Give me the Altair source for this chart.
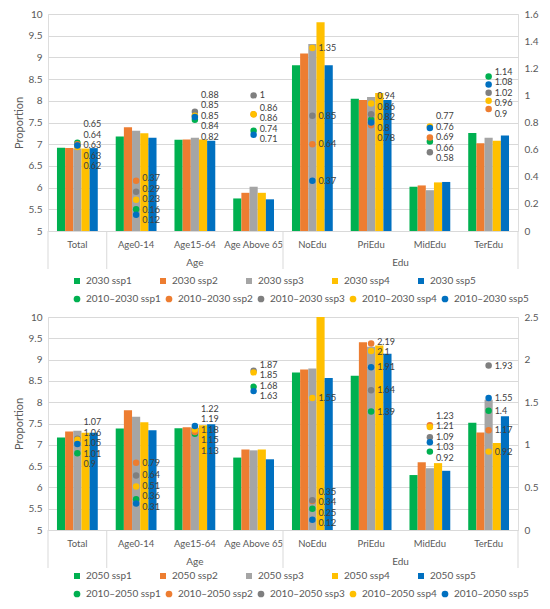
import altair as alt
import pandas as pd

FONT = "Lato"
TXT = "#595959"

categories = ["Total", "Age0-14", "Age15-64", "Age Above 65", "NoEdu", "PriEdu", "MidEdu", "TerEdu"]
ssps = ["ssp1", "ssp2", "ssp3", "ssp4", "ssp5"]
bar_colors = ["#00B050", "#ED7D31", "#A5A5A5", "#FFC000", "#0070C0"]
dot_colors = ["#00B050", "#ED7D31", "#7F7F7F", "#FFC000", "#0070C0"]

# ---- 2030 panel (bars: left axis, dots: change 2010-2030, right axis)
bars_2030 = {
    "ssp1": [6.92, 7.18, 7.10, 5.75, 8.82, 8.05, 6.02, 7.26],
    "ssp2": [6.91, 7.39, 7.11, 5.88, 9.09, 8.02, 6.05, 7.02],
    "ssp3": [6.90, 7.31, 7.15, 6.02, 9.31, 8.09, 5.94, 7.15],
    "ssp4": [6.90, 7.25, 7.11, 5.88, 9.81, 8.18, 6.12, 7.08],
    "ssp5": [6.91, 7.15, 7.08, 5.73, 8.82, 8.02, 6.13, 7.20],
}
dots_2030 = {
    "ssp1": [0.65, 0.16, 0.82, 0.74, None, 0.82, 0.66, 1.14],
    "ssp2": [0.64, 0.37, 0.85, 0.86, 0.64, 0.78, 0.69, 0.90],
    "ssp3": [0.63, 0.29, 0.88, 1.00, 0.85, 0.86, 0.58, 1.02],
    "ssp4": [0.62, 0.23, 0.85, 0.86, 1.35, 0.94, 0.77, 0.96],
    "ssp5": [0.63, 0.12, 0.84, 0.71, 0.37, 0.80, 0.76, 1.08],
}
# ---- 2050 panel
bars_2050 = {
    "ssp1": [7.17, 7.38, 7.39, 6.70, 8.70, 8.62, 6.29, 7.52],
    "ssp2": [7.31, 7.81, 7.41, 6.89, 8.77, 9.41, 6.59, 7.29],
    "ssp3": [7.33, 7.66, 7.40, 6.87, 8.79, 9.30, 6.45, 8.06],
    "ssp4": [7.28, 7.53, 7.46, 6.89, 10.3, 9.33, 6.57, 7.04],
    "ssp5": [7.28, 7.34, 7.48, 6.66, 8.57, 9.14, 6.39, 7.67],
}
dots_2050 = {
    "ssp1": [0.90, 0.36, 1.13, 1.68, 0.25, 1.39, 0.92, 1.40],
    "ssp2": [1.05, 0.79, 1.15, None, 0.34, 2.19, 1.23, 1.17],
    "ssp3": [1.07, 0.64, 1.19, 1.87, 0.35, 1.64, 1.09, 1.93],
    "ssp4": [1.06, 0.51, 1.18, 1.85, 1.55, 2.10, 1.21, 0.92],
    "ssp5": [1.01, 0.31, 1.22, 1.63, 0.12, 1.91, 1.03, 1.55],
}

W = 470


def dodge(vals, gap):
    """Spread labels vertically (axis units) so they do not overlap."""
    order = sorted(range(len(vals)), key=lambda i: -vals[i])
    clusters = [[i] for i in order]

    def positions(cl):
        c = sum(vals[i] for i in cl) / len(cl)
        n = len(cl)
        return [c + gap * ((n - 1) / 2 - k) for k in range(n)]

    changed = True
    while changed:
        changed = False
        for k in range(len(clusters) - 1):
            a, b = clusters[k], clusters[k + 1]
            if positions(a)[-1] - positions(b)[0] < gap - 1e-9:
                clusters[k] = a + b
                del clusters[k + 1]
                changed = True
                break
    out = {}
    for cl in clusters:
        for i, p in zip(cl, positions(cl)):
            out[i] = p
    return out


def panel(year, bars, dots, rmax, rstep, H, leg_y):
    bar_names = [f"{year} {s}" for s in ssps]
    dot_names = [f"2010\u2013{year} {s}" for s in ssps]
    rows = []
    for s, name in zip(ssps, bar_names):
        for c, v in zip(categories, bars[s]):
            rows.append({"cat": c, "series": name, "v": v})
    bdf = pd.DataFrame(rows)

    drows = []
    gap = 10.5 / H * rmax
    for ci, c in enumerate(categories):
        items = [(s, name, dots[s][ci]) for s, name in zip(ssps, dot_names) if dots[s][ci] is not None]
        pos = dodge([it[2] for it in items], gap)
        for k, (s, name, v) in enumerate(items):
            drows.append({"cat": c, "dser": name, "d": v, "ly": pos[k], "lab": f"{v:g}"})
    ddf = pd.DataFrame(drows)

    xsc = alt.Scale(domain=categories, paddingInner=0, paddingOuter=0)
    xaxis = alt.Axis(labelAngle=0, ticks=False, domain=False, labelPadding=8,
                     labelFontSize=9.5, labelColor=TXT, labelFont=FONT, grid=False)

    def X(bp=None):
        if bp is None:
            return alt.X("cat:N", scale=xsc, sort=categories, title=None, axis=xaxis)
        return alt.X("cat:N", scale=xsc, sort=categories, title=None, axis=xaxis, bandPosition=bp)

    left_vals = [5 + 0.5 * i for i in range(11)]
    right_vals = [round(rstep * i, 2) for i in range(int(round(rmax / rstep)) + 1)]
    off_domain = ["_a"] + bar_names + ["_b"]

    bar = alt.Chart(bdf).mark_bar(clip=True).encode(
        x=X(),
        xOffset=alt.XOffset("series:N",
                            scale=alt.Scale(domain=off_domain, paddingInner=0, paddingOuter=0.1)),
        y=alt.Y("v:Q", scale=alt.Scale(domain=[5, 10], clamp=True, zero=False, nice=False),
                title="Proportion",
                axis=alt.Axis(values=left_vals, format="~g", ticks=False, domain=False,
                              labelFontSize=10, labelColor=TXT, labelFont=FONT,
                              titleFont=FONT, titleFontSize=11, titleColor=TXT,
                              titleFontWeight="normal", gridColor="#D9D9D9", labelPadding=6)),
        color=alt.Color("series:N", sort=bar_names,
                        scale=alt.Scale(domain=bar_names, range=bar_colors),
                        legend=alt.Legend(title=None, orient="none", legendX=24, legendY=leg_y,
                                          direction="horizontal", columns=5, columnPadding=26,
                                          symbolType="square", symbolSize=36, labelFontSize=10,
                                          labelColor=TXT, labelFont=FONT, labelOffset=4)),
    )

    rsc = alt.Scale(domain=[0, rmax], nice=False, zero=True)
    raxis = alt.Axis(orient="right", values=right_vals, format="~g", ticks=False,
                     domain=False, grid=False, labelFontSize=10, labelColor=TXT,
                     labelFont=FONT, labelPadding=6)
    dot = alt.Chart(ddf).mark_circle(size=42, opacity=1).encode(
        x=X(),
        y=alt.Y("d:Q", scale=rsc, title=None, axis=raxis),
        fill=alt.Fill("dser:N", sort=dot_names,
                      scale=alt.Scale(domain=dot_names, range=dot_colors),
                      legend=alt.Legend(title=None, orient="none", legendX=24, legendY=leg_y + 18,
                                        direction="horizontal", columns=5, columnPadding=3,
                                        symbolType="circle", symbolSize=45, labelFontSize=10,
                                        labelColor=TXT, labelFont=FONT, labelOffset=4)),
    )
    lab = alt.Chart(ddf).mark_text(align="left", baseline="middle", dx=6, fontSize=9,
                                   font=FONT, color="#404040").encode(
        x=X(),
        y=alt.Y("ly:Q", scale=rsc, title=None, axis=raxis),
        text="lab:N",
    )

    grp_age = pd.DataFrame({"cat": ["Age15-64"], "g": ["Age"]})
    grp_edu = pd.DataFrame({"cat": ["MidEdu"], "g": ["Edu"]})
    t_age = alt.Chart(grp_age).mark_text(fontSize=10, font=FONT, color=TXT, baseline="middle").encode(
        x=X(0.5), y=alt.value(H + 32), text="g:N")
    t_edu = alt.Chart(grp_edu).mark_text(fontSize=10, font=FONT, color=TXT, baseline="middle").encode(
        x=X(0), y=alt.value(H + 32), text="g:N")

    sep_start = pd.DataFrame({"cat": ["Total", "Age0-14", "NoEdu"]})
    sep_end = pd.DataFrame({"cat": ["TerEdu"]})
    r1 = alt.Chart(sep_start).mark_rule(color="#D9D9D9", strokeWidth=1).encode(
        x=X(0), y=alt.value(H), y2=alt.value(H + 38))
    r2 = alt.Chart(sep_end).mark_rule(color="#D9D9D9", strokeWidth=1).encode(
        x=X(1), y=alt.value(H), y2=alt.value(H + 38))

    right = alt.layer(dot, lab)
    return alt.layer(bar, r1, r2, t_age, t_edu, right).resolve_scale(
        y="independent").properties(width=W, height=H)


top = panel(2030, bars_2030, dots_2030, 1.6, 0.2, 217, 262)
bottom = panel(2050, bars_2050, dots_2050, 2.5, 0.5, 213, 254)

chart = alt.vconcat(top, bottom, spacing=6).resolve_scale(
    color="independent", fill="independent", x="independent", y="independent",
    xOffset="independent").resolve_legend(color="independent", fill="independent").properties(
    padding={"left": 4, "top": 0, "right": 0, "bottom": 0}
).configure_view(stroke="#8C8C8C", strokeWidth=1).configure(background="white")

chart.save("out.html", embed_options={"renderer": "svg", "actions": False})
